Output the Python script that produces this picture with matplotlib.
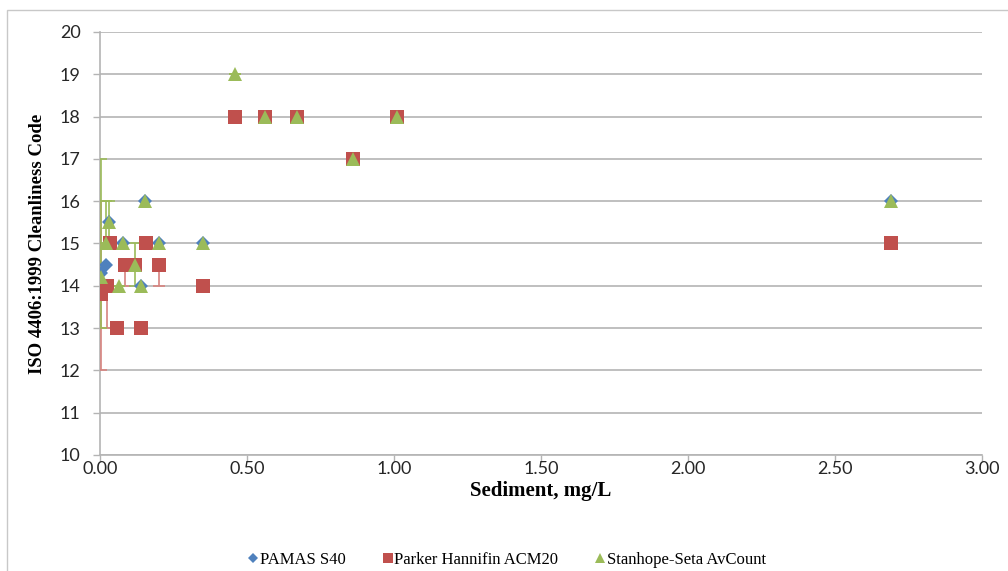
import numpy as np
import matplotlib
matplotlib.use("Agg")
import matplotlib.pyplot as plt
from matplotlib.patches import Rectangle

# PAMAS S40
pamas_x = [0.002, 0.02, 0.032, 0.077, 0.14, 0.153, 0.2, 0.35, 2.69]
pamas_y = [14.3, 14.5, 15.5, 15.0, 14.0, 16.0, 15.0, 15.0, 16.0]

# Parker Hannifin ACM20 (with lower / upper error)
parker_x = [0.002, 0.024, 0.035, 0.058, 0.086, 0.12, 0.141, 0.155, 0.2, 0.35,
            0.46, 0.56, 0.67, 0.86, 1.01, 2.69]
parker_y = [13.8, 14.0, 15.0, 13.0, 14.5, 14.5, 13.0, 15.0, 14.5, 14.0,
            18.0, 18.0, 18.0, 17.0, 18.0, 15.0]
parker_lo = [1.8, 1.0, 0, 0, 0.5, 0, 0, 0, 0.5, 0, 0, 0, 0, 0, 0, 0]
parker_hi = [2.2, 0, 0, 0, 0, 0, 0, 0, 0, 0, 0, 0, 0, 0, 0, 0]

# Stanhope-Seta AvCount (with lower / upper error)
stan_x = [0.002, 0.02, 0.032, 0.064, 0.077, 0.12, 0.141, 0.153, 0.2, 0.35,
          0.46, 0.56, 0.67, 0.86, 1.01, 2.69]
stan_y = [14.2, 15.0, 15.5, 14.0, 15.0, 14.5, 14.0, 16.0, 15.0, 15.0,
          19.0, 18.0, 18.0, 17.0, 18.0, 16.0]
stan_lo = [1.2, 0, 0.5, 0, 0, 0.5, 0, 0, 0, 0, 0, 0, 0, 0, 0, 0]
stan_hi = [2.8, 1.0, 0.5, 0, 0, 0.5, 0, 0, 0, 0, 0, 0, 0, 0, 0, 0]

x_ticks = [0.0, 0.5, 1.0, 1.5, 2.0, 2.5, 3.0]
y_ticks = list(range(10, 21))

blue = "#4f81bd"
red = "#c0504d"
green = "#9bbb59"

fig = plt.figure(figsize=(10.08, 5.71), dpi=100)
fig.patches.append(Rectangle((7 / 1008, -0.05), 1.2, 1 - 10 / 571 + 0.05,
                             transform=fig.transFigure, fill=False,
                             edgecolor="#c8c8c8", linewidth=1))
ax = fig.add_axes([100 / 1008, 1 - 455 / 571, 881.7 / 1008, 423 / 571])

# error bars first (caps need a visible edge width), then the markers
ax.errorbar(parker_x, parker_y, yerr=[parker_lo, parker_hi], fmt="none",
            ecolor="#d7837f", elinewidth=1.2, capsize=4, capthick=1.2,
            zorder=3)
ax.errorbar(stan_x, stan_y, yerr=[stan_lo, stan_hi], fmt="none",
            ecolor=green, elinewidth=1.2, capsize=4, capthick=1.2,
            zorder=3.1)

ax.plot(pamas_x, pamas_y, "D", color=blue, markersize=7,
        markeredgewidth=0, zorder=4, label="PAMAS S40")
ax.plot(parker_x, parker_y, "s", color=red, markersize=9.5,
        markeredgewidth=0, zorder=5, label="Parker Hannifin ACM20")
ax.plot(stan_x, stan_y, "^", color=green, markersize=10,
        markeredgewidth=0, zorder=6, label="Stanhope-Seta AvCount")

ax.set_xlim(0, 3)
ax.set_ylim(10, 20)
ax.set_xticks(x_ticks)
ax.set_xticklabels([f"{v:.2f}" for v in x_ticks])
ax.set_yticks(y_ticks)
ax.grid(axis="y", color="#b4b4b4", linewidth=1.2)
ax.set_axisbelow(True)
for s in ["top", "right"]:
    ax.spines[s].set_visible(False)
for s in ["left", "bottom"]:
    ax.spines[s].set_color("#b4b4b4")
    ax.spines[s].set_linewidth(1.2)
ax.tick_params(axis="both", color="#b4b4b4", length=5, width=1,
               labelsize=13, labelcolor="#262626")
for lab in ax.get_xticklabels() + ax.get_yticklabels():
    lab.set_family("Lato")
ax.tick_params(axis="x", pad=-1)
ax.tick_params(axis="y", pad=9)

ax.set_xlabel("Sediment, mg/L", family="Liberation Serif", fontweight="bold",
              fontsize=15, labelpad=3)
ax.set_ylabel("ISO 4406:1999 Cleanliness Code", family="Liberation Serif",
              fontweight="bold", fontsize=13.5, labelpad=10)

handles, labels = ax.get_legend_handles_labels()
leg = fig.legend(handles, labels, loc="center", bbox_to_anchor=(0.503, 0.02),
                 ncol=3, frameon=False, markerscale=0.7, handlelength=0.6,
                 handletextpad=0.1, columnspacing=2.2,
                 prop={"family": "Liberation Serif", "size": 12})

fig.savefig("out.png", dpi=100)
